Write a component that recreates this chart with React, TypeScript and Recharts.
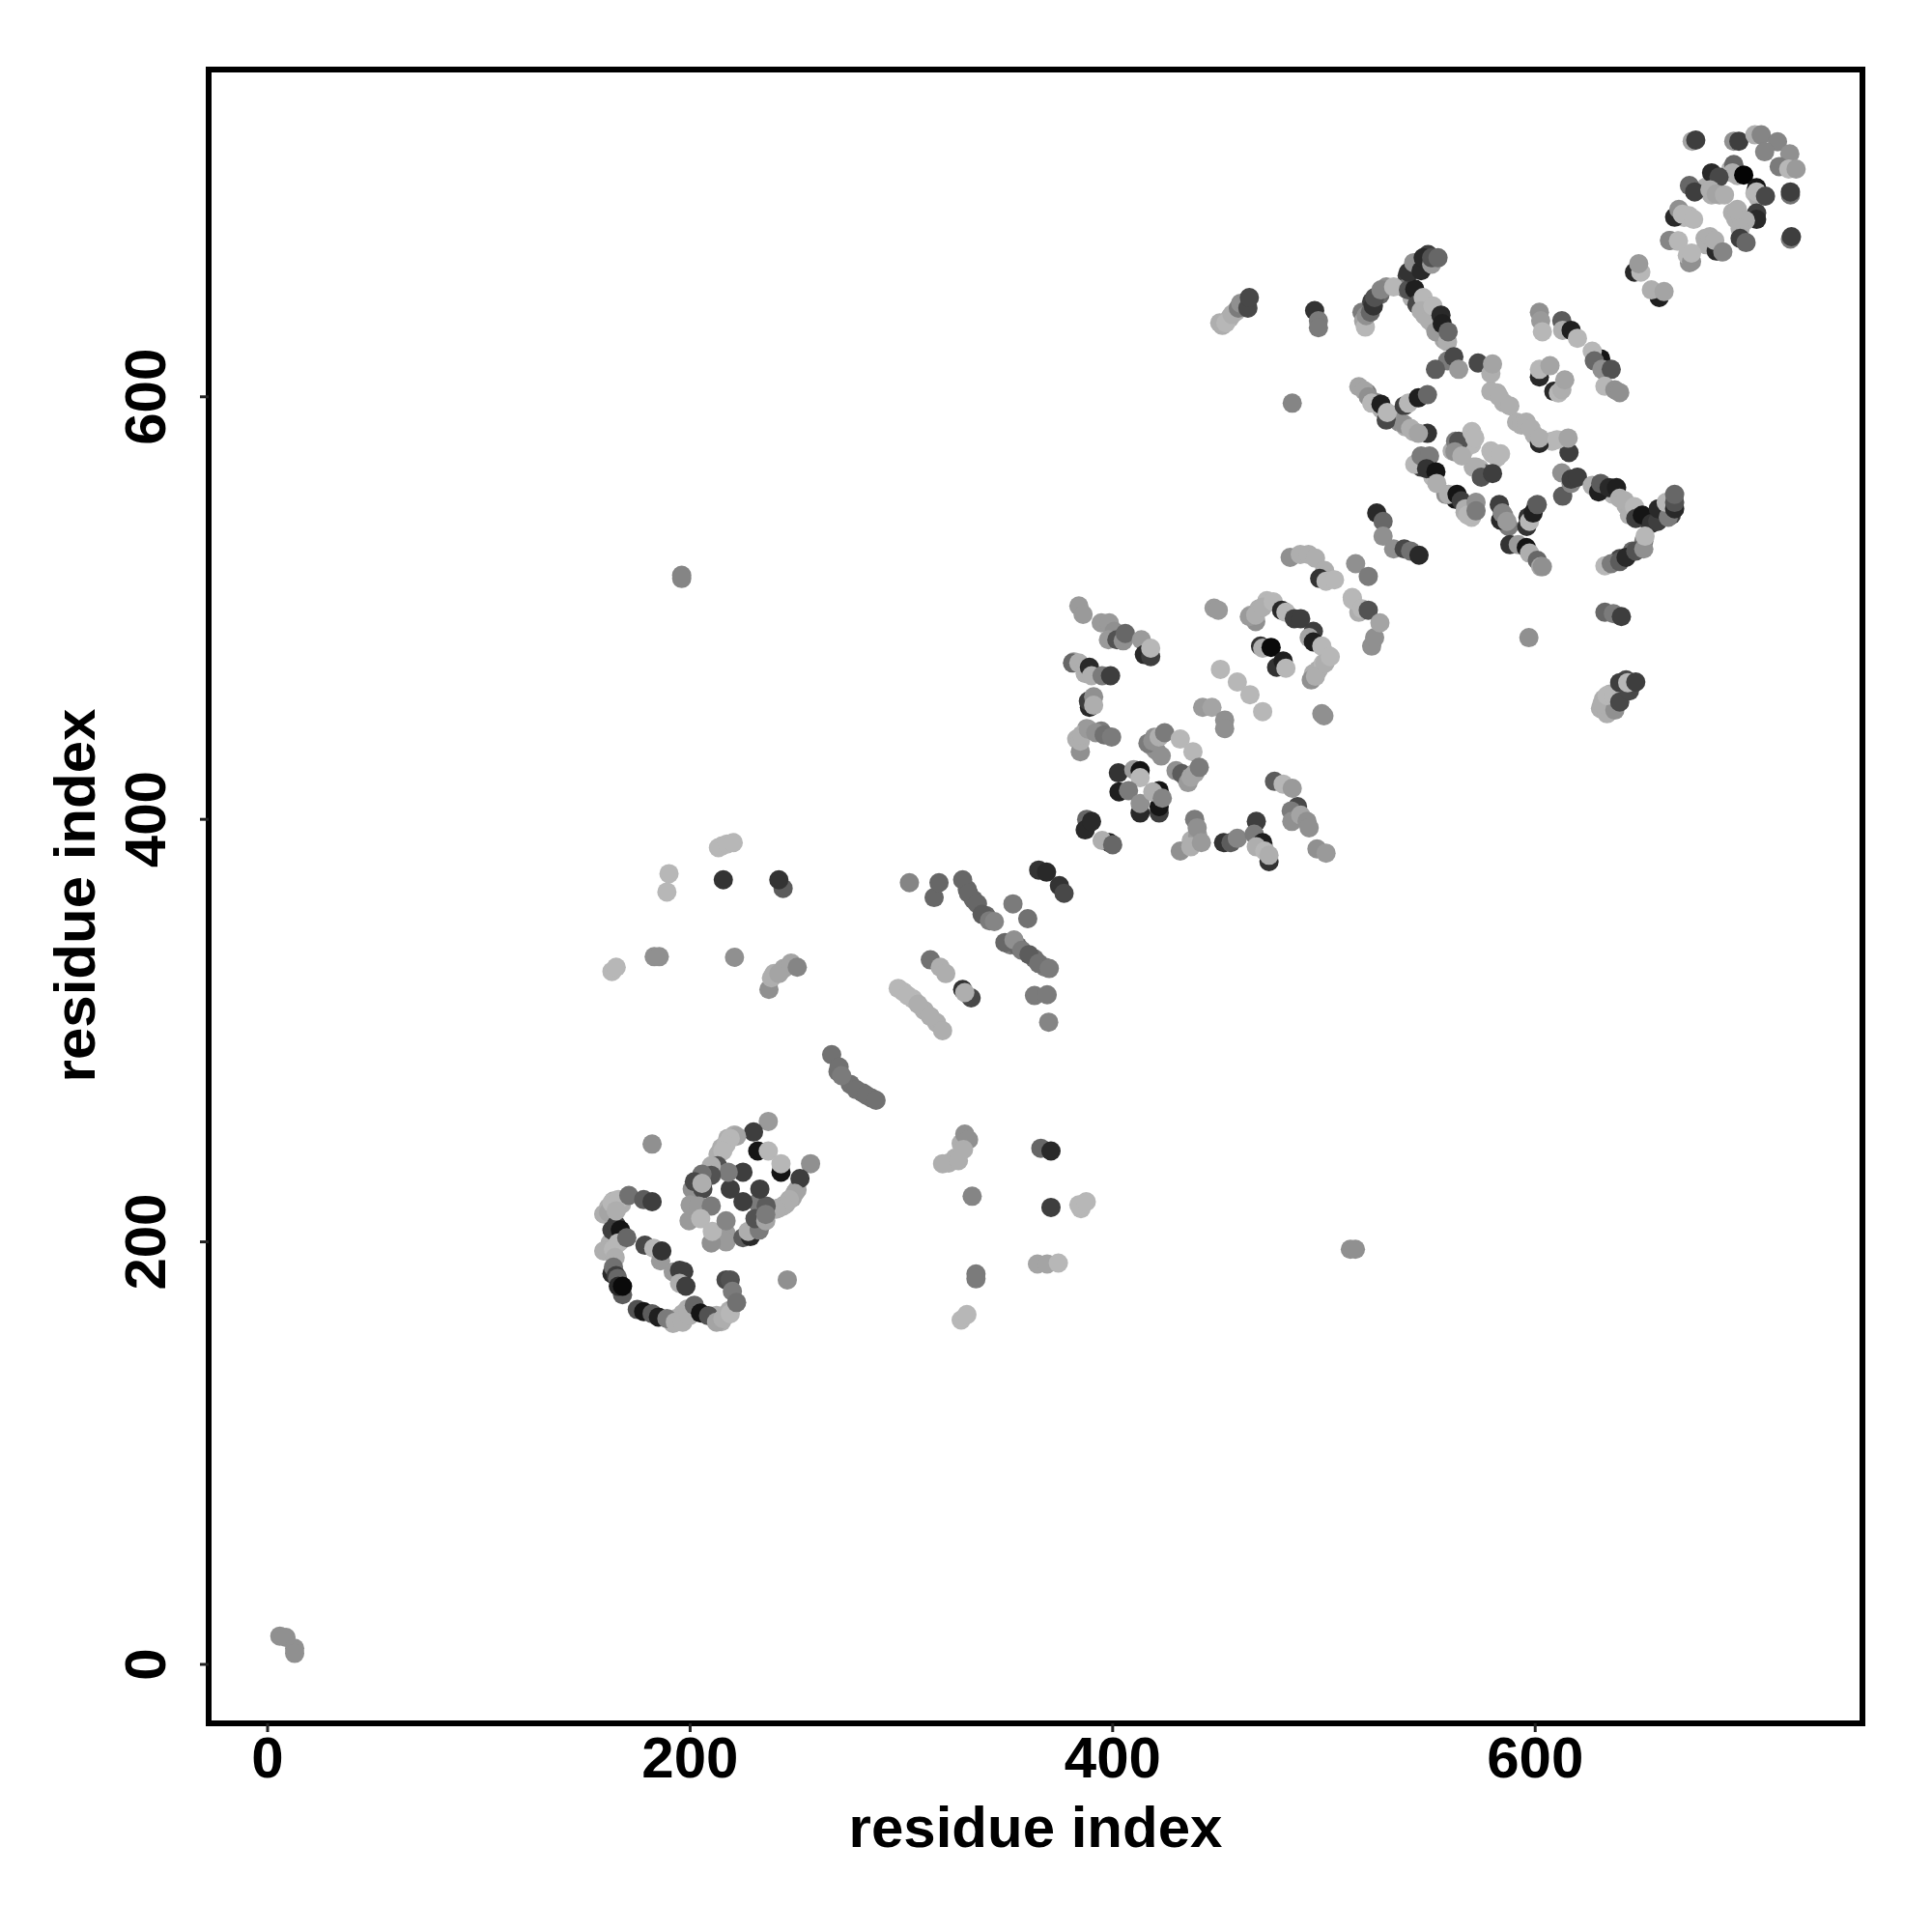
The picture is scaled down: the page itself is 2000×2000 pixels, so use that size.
import React from 'react';
import { ScatterChart, Scatter, XAxis, YAxis, ReferenceArea } from 'recharts';

type P = [number, number, number];

const tickValues = [0, 200, 400, 600];
const axisTitle = 'residue index';

const corner: P[] = [[5.8,13.4,.7],[8.7,12.8,.7],[12.8,7.6,.7],[12.8,5.2,.7]];

const denseLower: P[] = [
[213.2,241.4,.85],[214.8,244.5,.85],[217.8,249,.85],[220.9,250.6,.85],[245.2,217.8,.85],[248.3,220.8,.8],[250.6,224.6,.8],[241.9,216,.85],[239.1,215.5,.85],
[212.5,165.2,.85],[214.8,162.2,.85],[217,165.2,.85],[218.6,167.5,.85],[193.4,163.7,.85],[196.5,166,.85],[198.8,168.3,.85],[191.9,161.4,.85],
[159.1,213.2,.85],[161.4,216.3,.85],[163.7,219.3,.85],[167.5,217.8,.85],[162.2,199.5,.85],[159.1,195.7,.85],[162.9,195.7,.85],[166.8,200.3,.85],[163,205.6,.3],[163,185,.2],
[215.2,387.5,.9],[239.7,327,.85],[244.3,329.4,.8],[322.4,237.3,.85],[325.4,239.7,.85],[328.3,246.6,.85],
];

const denseMiddle: P[] = [
[300.9,318.4,.9],[305.5,315,.9],[310.8,309.6,.85],[316.6,303.8,.85],[275.8,274.6,.55],[281.6,270.6,.55],[285.7,268.2,.55],[270,280.5,.55],
[331.2,366.8,.5],[334.1,362,.5],[340,354.5,.5],[351.6,340.5,.6],[355,340,.5],[363,334,.55],[368,330,.6],
[465.4,496.7,.85],[469.3,499.7,.85],[473,503.5,.9],[495,469,.85],[497.4,470.8,.85],[499.7,473.8,.9],[502,477.6,.9],[381.6,474.6,.85],[387,469,.85],[383,438,.85],[387.7,443,.75],[394.6,441.8,.6],
[434.2,420.5,.8],[435,419,.7],[419.7,438.8,.7],[418.2,435,.7],[420.5,432.7,.7],[437.2,390,.85],[440.3,392.3,.75],[471.5,387,.85],[469.3,388.5,.85],
[455.4,637.3,.85],[458.3,640.3,.85],[462.4,644.3,.5],[451.9,633.8,.85],
];

const denseUpper: P[] = [
[518,640,.6],[518.8,636,.8],[522.6,645,.3],[526.5,648.3,.5],[529.5,652,.7],[544.7,663.5,.3],[549.3,667.3,.3],[539.4,657.4,.3],[538.6,651.3,.6],
[541.7,646.8,.85],[544.7,643.7,.9],[549.3,642.2,.9],[547.8,638.4,.85],[551.6,634.6,.85],[556.9,627,.8],
[582,601.8,.85],[585.1,597.2,.85],[591.2,588,.85],[593.5,586.6,.85],[599.6,582,.85],[608,579,.9],
[516.5,604.8,.8],[520.4,601.8,.6],[524.9,597.2,.55],[527.2,594.2,.85],[535.6,588,.7],[538.6,585.8,.85],[542.5,583.5,.85],
[560.7,574.4,.85],[566,574.4,.9],[567.6,579,.9],[569.9,577.4,.9],[562.3,579,.6],[570.7,566.7,.85],[573.7,566,.9],[576,563.7,.45],[579,574.4,.9],[582,571.3,.9],
[544,568.3,.9],[547.8,571.3,.5],[546,566.7,.3],[551.6,562,.9],[562.3,551.5,.1],[557.7,553.8,.7],[566.8,545.4,.85],[569.9,543,.9],
[585.1,543.9,.7],[587.4,538.6,.6],[596.6,543,.25],[600.4,548.5,.5],[640,523.4,.35],[646,527,.5],[651.4,531.7,.6],
[632.4,457,.85],[635.4,454,.7],[638.5,460,.85],[641.5,460,.35],[643,466,.35],[635.4,459.3,.85],[630.9,452.5,.85],
[636.9,553.8,.9],[643,548.5,.85],[646,544,.35],[653.7,540.9,.2],[656.8,543,.3],[660.6,545.5,.7],[664.4,544,.3],
[681,699.4,.85],[683.5,695.6,.85],[687.3,695.6,.85],[692.6,707.8,.85],[695.7,704.7,.85],[693.4,687.2,.85],[694.9,684.2,.85],[697.2,684.9,.85],[670.5,684.9,.9],[672.8,685.7,.9],[680.4,675,.85],[681,672,.85],[704,696.4,.9],[705.6,694,.85],
];

const lowerKnot: P[] = [
[182,246.3,.7],[237,257,.75],[257,237,.7],[246,182,.7],
[230,252,.3],[222,250,.8],[219,249,.9],[217,246,.9],[215.5,243,.9],[232,243,.1],[237,243,.95],[243,233,.1],[243,237,.95],
[252,230,.3],[249.5,223,.8],[247,220,.85],[244,217,.85],[240.7,215.5,.85],[232,218.5,.6],[236,217,.45],[233,225,.3],[225,233,.3],[219,225,.3],[225,219,.3],
[213,236,.4],[218,233,.6],[210,236,.85],[210,231.5,.4],[205.6,232,.55],[201,225,.7],[202,228.5,.35],[206,225,.35],[205.6,227.7,.85],
[199.5,210,.75],[200,217.5,.75],[204,217,.75],[210,217,.6],[205,211,.9],[217,204,.75],[217,200,.75],[210,199.5,.7],[210.5,205,.9],[217,210,.65],
[225,202,.45],[228.5,202.5,.2],[227.5,205,.85],[232.7,205.6,.6],[230.7,211,.4],[235.8,210,.8],[235.8,213,.6],
[161.4,214,.8],[165,208,.3],[167,205.6,.1],[163,218.5,.9],[166,220,.9],[165,214.7,.85],[171,222,.55],[178,220,.45],[182,219,.3],
[161,195.7,.85],[166,199.5,.9],[163.7,196.5,.9],[164.5,192.6,.85],[170,202,.5],[163.7,188,.55],[165,184,.3],[165.7,182.7,.5],[168,175,.45],[166,179,.2],[168,179,.05],
[175,168,.4],[178,167,.1],[182,166,.45],[185,164.4,.15],[189,163.7,.6],[193,162,.85],[196.5,162,.85],[199.5,165,.85],[202,170,.5],[204.9,166.3,.1],[208.7,165,.4],[212.5,162,.8],[215.5,163.7,.85],[219,166,.9],[217,182,.35],[219,182,.4],[220,176.6,.6],[222,171.3,.55],
[178.6,198.4,.35],[182.8,197,.9],[186,191,.75],[186.6,195.7,.25],[192,185.8,.75],[195,186.5,.3],[197,186,.3],[195,180.4,.85],[198,179,.3],
];

const detached: P[] = [
[196,515.5,.65],[196,514,.65],[213.4,386.6,.9],[217.5,388.3,.9],[220.4,389,.9],[190,374.3,.9],[189,365.6,.9],[215.7,371.4,.25],[244,367.3,.45],[242,371.4,.25],
[163,328,.9],[165,330,.9],[183,335,.7],[185.4,335,.7],[221,334.7,.7],[237.3,319.5,.7],[238.5,325,.85],[242,327,.8],[247.8,332,.8],[250.7,330,.65],
[366,244.3,.5],[370.8,243,.2],[370.8,216.3,.3],[385,215.7,.9],[384,217.5,.9],[387.5,219,.9],[330,251,.7],[331.8,248.4,.7],[319.5,237,.85],[327,238.5,.85],[329.4,243.7,.85],
[333.5,221.6,.65],[335.3,184.8,.6],[335.3,182.5,.6],[328.3,163,.9],[331,165.6,.9],[364.4,189.5,.8],[369,189.5,.8],[374.3,190,.9],[512.5,196.5,.7],[514.9,196.5,.7],[485,597,.65],
];

const midBands: P[] = [
[303.8,370,.65],[315.5,363,.5],[317.8,370,.5],[329,371.4,.5],[331.8,365,.5],[336,360,.5],[338.2,355,.45],[341.7,352,.6],[344,351.6,.65],[352.8,360,.6],[359.8,353,.55],
[349,341.7,.5],[353.3,342.9,.7],[357,338,.6],[360.4,336,.45],[365,331.8,.55],[370,329.4,.6],[363,316.6,.6],[369,317,.6],[369.7,304,.65],
[298.5,320,.9],[303,316.6,.9],[307.9,312.5,.85],[313.7,306.7,.85],[319.5,300,.85],[313.7,333.5,.55],[318.4,330,.85],[321,327,.85],[329,319.5,.25],[333,315.5,.35],[330,318,.85],
[267,288.6,.55],[270.5,282.8,.55],[271.7,278.7,.6],[278.7,272,.55],[283.4,269.4,.55],[288,267,.55],
[365,376,.25],[368.7,375,.2],[374.8,368.6,.25],[377,365,.35],
];

const centerLeft: P[] = [
[384,501,.75],[386,497,.75],[394.6,493,.75],[398.4,493,.75],[400.7,489,.7],[398,485,.75],[402,485,.4],[405,484.5,.7],[406,488,.5],[413.6,485,.75],[415,478,.2],[418,477,.3],[418,481,.9],
[381,474,.5],[384,474,.85],[387,472,.85],[389,472,.2],[390,468,.85],[395,468,.6],[399,468,.3],[389,453,.2],[388.5,456,.3],[391,458,.7],[391,454,.85],
[384.7,432,.7],[384.7,437,.85],[385.4,440,.85],[388.5,442.6,.75],[392,441,.7],[396,440,.55],[399.5,439,.6],
[416.7,436,.6],[419,437,.7],[422,439,.85],[424.6,441,.6],[423,430,.7],[432,438,.95],[438,432,.95],[430,423,.7],[432.7,421.7,.45],[435.7,417.4,.75],[437,420,.8],[439,422,.8],[441,424.6,.6],
[402.7,422,.25],[410,423.5,.75],[413,423,.1],[413,419.7,.9],[403,413,.15],[407.5,413.6,.6],[413,403,.2],[413,407.5,.7],[422,403,.3],[422,406,.1],[422,413.6,.1],[419,413,.85],[423.5,410,.65],
[387.7,400,.5],[387,395,.2],[390,399,.2],[398.4,389,.15],[395,390,.85],[400,388,.5],
[438.8,400,.6],[440,396,.7],[432,385,.7],[437,387,.85],[442,389,.75],[452.5,389,.25],[456,389,.45],[459,391,.65],[468,399,.3],[467,393,.6],[471,389,.15],[468,387,.85],[474,380,.25],[472,385,.9],[474,383,.85],
[476.6,418,.45],[480.7,416.7,.9],[485,414.7,.75],[487.5,406,.35],[484.5,404,.6],[484.8,399,.7],[489,402,.8],[492,399,.7],[493,396,.7],[496.7,386,.7],[501,384,.75],
];

const centerRight: P[] = [
[448,500,.75],[450,499,.75],[451,471,.95],[459,465,.9],[465,459,.9],[471,451,.95],[442.6,453,.75],[447,453,.8],[453,447,.7],[453,443,.7],[499,450,.7],[500,449,.7],
[467.7,493.6,.7],[464.7,496,.75],[467.7,496.7,.85],[471,500.5,.85],[476,503,.9],[480,499,.2],[482,498,.9],[486,495,.3],[489,495,.3],[495,489,.3],[493,486,.8],[495,484,.15],[499,482,.9],[494,466,.7],[496,467.7,.85],[500.5,474,.85],[503,477,.9],
[470,482,.25],[471,481,.85],[475,481.4,.05],[477.6,472,.25],[480.7,475,.15],[482,471.5,.9],
[484,524,.7],[488.8,525.4,.85],[492.7,525.4,.85],[496,523.6,.85],[500.3,517.8,.85],[498,514,.25],[501,512.7,.9],[505,513.4,.95],[513.4,505,.9],[516.5,498,.85],
[495.6,640.8,.25],[497.4,636,.6],[497.4,632.7,.6],[450.7,635,.85],[453.6,635,.9],[456.5,639,.85],[459.5,642,.6],[460.6,644.3,.7],[464,642,.35],[464.7,647,.35],
];

const upperLeft: P[] = [
[519.6,633,.9],[520,638.4,.7],[522,640,.5],[523.4,643,.25],[524,647,.4],[527,650.6,.65],[533,652,.95],[540,650.6,.4],[543,651,.15],[544,643.7,.35],[547,647,.95],[540,659,.25],[542.5,663.5,.7],[546,659.7,.2],[547,665.8,.2],[551,662.8,.75],[551,665.8,.4],[554,665.8,.5],
[546,640.7,.85],[550,636,.85],[551.6,643,.95],[553,630.8,.75],[555.4,638.7,.2],[556,634.6,.15],[558.5,626,.85],[558.8,630.8,.5],[558.5,617,.6],[561.5,619,.35],[552.8,613,.45],[563.8,613,.75],[573,616,.35],[579,611,.85],[579.8,615.5,.8],
[602,578,.2],[579,602.6,.85],[583,600,.85],[588,595.7,.85],[595.8,588,.85],[598,585,.85],[602,580.5,.85],[616,573.6,.3],[610.3,579.7,.9],[615.6,580.5,.8],
[602,640,.7],[602.6,636,.75],[603.4,630.8,.9],[612.6,636,.45],[613,631.5,.85],[617,631.5,.15],[620,627.7,.9],[631,618,.1],[627,621.6,.9],[628,617,.5],[631.6,613,.7],[636,613,.4],[633,605,.9],[637.7,603.3,.7],[640,602,.7],
[602,609.4,.2],[602,613,.9],[607,614.7,.8],[608.8,602.6,.2],[611,601.8,.9],[612.6,603.3,.85],[614,608,.8],
[658.7,647,.15],[647,659,.2],[650,659,.9],[649,663,.75],[655,650.6,.85],[661,649.8,.8],[663.6,674,.7],[667.4,673.7,.95],[673,663.5,.7],[672,667,.9],
];

const upperMiddle: P[] = [
[519,603,.8],[521,600,.7],[522.6,597,.9],[529.5,589,.35],[527,596.5,.15],[530,592.6,.9],[538,595.7,.3],[540,597,.9],[544.7,599.5,.15],[549,601,.5],[538,587,.7],[541,585,.85],[549,582.7,.25],[544.7,582.7,.8],
[563.8,579,.4],[562,574,.7],[565.3,572,.85],[570,583.5,.9],[571.4,580.5,.9],[572,566.7,.85],[574.5,562,.4],[579.8,563.7,.3],[579.8,573,.9],[583.6,573,.9],
[543,568,.95],[546,572,.6],[550,572,.6],[548.6,566,.25],[553,564.5,.1],[553.4,559,.85],[559,553.8,.85],[563,553.8,.1],[565,550.7,.3],[567,547,.85],[568,544,.95],[572,550,.7],[572,546,.6],
[583.6,541.6,.2],[583,549,.3],[584.4,545,.65],[586.6,541,.75],[596,538.6,.25],[597.3,541,.9],[599,545,.15],[601,549,.45],
[588,530,.25],[592,530,.75],[595.8,528.7,.1],[597.3,526,.85],[601,522.6,.5],[602.6,519.6,.8],[603.4,519.6,.7],
[613,553,.45],[612.6,564,.7],[617,559,.65],[617,561,.3],[620,562,.3],[627,558,.85],[630,555,.15],[631,559,.45],[635,557,.2],[638.5,557,.15],[640,552,.85],[642.3,550.8,.85],[644.6,544,.85],[647,548,.95],[647.6,542.4,.3],[650.7,544,.1],[655,540,.25],[658,541,.3],[658.3,547,.2],[663,543,.6],[662,550,.9],[666,547,.2],[666,550,.4],[666,553.8,.5],
[633,520,.9],[636,521,.6],[640,522,.45],[643,524,.2],[647.6,527,.4],[651.4,528,.7],[652,534,.95],
[633,498,.5],[637,497.4,.6],[640.8,496,.3],[597,486,.7],
[634,450,.85],[631.6,454.8,.85],[637.7,451.7,.7],[634,458.6,.9],[637,458.6,.9],[640,455.5,.35],[640,464.7,.3],[644.6,460.8,.35],[643.8,464.7,.9],[647.6,465,.3],
[525,545,.2],[528,541,.5],[528,534,.7],[533,528,.7],[538,528,.35],[541,527,.55],[545,525,.2],[515,521,.7],[521,515,.6],
[513.5,504,.9],[518,499.7,.95],[521,499,.4],[522.6,482,.7],[524,486,.7],[526.5,493,.8],
];

const topRight: P[] = [
[674.3,721,.8],[676,721.5,.3],[694,721,.7],[696.4,721,.3],[704,724,.85],[707,724,.65],[714.7,720.7,.65],[708.6,716,.65],[720.5,715,.7],[715.5,709,.6],[720,707.8,.9],[723.5,707.8,.75],
[694,710,.5],[693.4,706,.85],[698.7,705,.02],[683.5,706,.2],[687,704,.35],[673,700,.5],[675.5,697,.3],[682.7,698,.85],[685.7,696,.8],[689.6,695.6,.85],
[704.8,699,.1],[704.8,697,.9],[709,695,.35],[720.8,695.6,.55],[720.8,697,.3],
[704.8,687,.3],[704.8,684,.2],[695.7,688.7,.85],[699.5,683.4,.85],[697,679.6,.85],[666,685,.2],[668,688.7,.7],[669.7,686.4,.9],[675,684,.9],[663.7,674,.65],[667.8,673.8,.95],
[685.7,669,.2],[682.7,675.8,.85],[685,674,.85],[688.8,668.6,.65],[697,675,.3],[699.8,673,.5],[720.8,674.7,.6],[721.3,675.8,.3],[674,664,.7],[674,668,.95],
];

const clusters: P[][] = [corner, denseLower, denseMiddle, denseUpper, lowerKnot, detached, midBands, centerLeft, centerRight, upperLeft, upperMiddle, topRight];
const rows = clusters.flat().map(([x, y, score]) => ({ x, y, score }));

const shadeOf = (s: number) => {
  const g = Math.round(Math.min(183, s * 205));
  return `rgb(${g},${g},${g})`;
};

const font = { fontFamily: '"Liberation Sans", Arial, sans-serif', fontWeight: 700, fontSize: 60, fill: '#000' };

const XTick = (p: any) => (
  <text x={p.x} y={1840} textAnchor="middle" {...font}>{p.payload.value}</text>
);
const YTick = (p: any) => (
  <text transform={`translate(171,${p.y}) rotate(-90)`} textAnchor="middle" {...font}>{p.payload.value}</text>
);
const Dot = (p: any) => <circle cx={p.cx} cy={p.cy} r={10} fill={shadeOf(p.payload.score)} />;

const DOMAIN: [number, number] = [-27.9, 754.9];
const tickLine = { stroke: '#222', strokeWidth: 3 };

export default function App() {
  return (
    <div style={{ position: 'absolute', left: 0, top: 0, width: 2000, height: 2000, background: '#fff' }}>
      <ScatterChart width={2000} height={2000} margin={{ top: 72, right: 72, bottom: 215, left: 215 }}>
        <XAxis type="number" dataKey="x" domain={DOMAIN} ticks={tickValues} allowDataOverflow height={1}
          axisLine={false} tickSize={9} tickLine={tickLine} tick={XTick} interval={0} />
        <YAxis type="number" dataKey="y" domain={DOMAIN} ticks={tickValues} allowDataOverflow width={1}
          axisLine={false} tickSize={9} tickLine={tickLine} tick={YTick} interval={0} />
        <Scatter data={rows} isAnimationActive={false} shape={Dot} />
        <ReferenceArea x1={DOMAIN[0]} x2={DOMAIN[1]} y1={DOMAIN[0]} y2={DOMAIN[1]} fill="none" fillOpacity={0}
          stroke="#000" strokeWidth={6} strokeOpacity={1} ifOverflow="visible" />
      </ScatterChart>
      <svg width={2000} height={2000} style={{ position: 'absolute', left: 0, top: 0, pointerEvents: 'none' }}>
        <text x={1072} y={1912} textAnchor="middle" {...font}>{axisTitle}</text>
        <text transform="translate(98,927) rotate(-90)" textAnchor="middle" {...font}>{axisTitle}</text>
      </svg>
    </div>
  );
}
